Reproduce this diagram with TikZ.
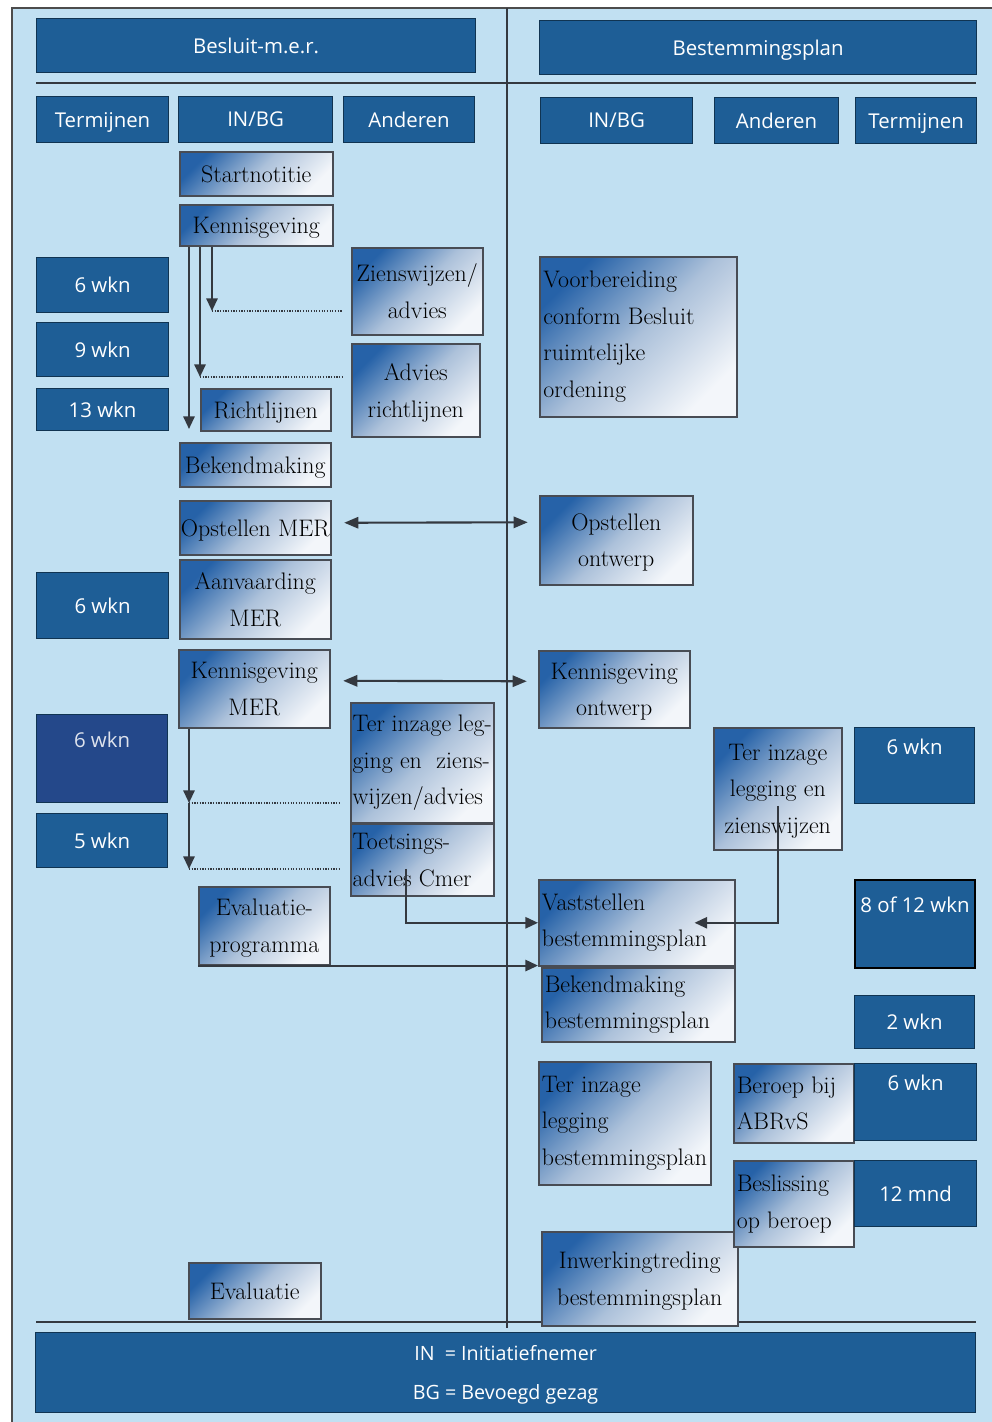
\documentclass[tikz,border=0pt]{standalone}
\usepackage{fontspec}
\setsansfont{Open Sans}
\usetikzlibrary{arrows.meta,calc,positioning}
\definecolor{bgblue}{RGB}{193,224,242}
\definecolor{hdrblue}{RGB}{30,94,150}
\definecolor{navyblue}{RGB}{36,72,138}
\definecolor{gradtop}{RGB}{38,98,168}
\definecolor{gradmid}{RGB}{172,193,218}
\definecolor{gradbot}{RGB}{243,246,250}
\definecolor{boxline}{RGB}{72,76,84}
\definecolor{conn}{RGB}{52,57,64}

\tikzset{
  boxsize/.style 2 args={minimum width=#1*0.025cm, minimum height=#2*0.025cm,
    anchor=north west},
  hdrbox/.style={draw=hdrblue!55!black, line width=0.8pt, fill=hdrblue, text=white,
    inner sep=0pt, text depth=0pt, align=center,
    font=\sffamily\fontsize{14.5}{27}\selectfont},
  stepbox/.style={draw=boxline, line width=1.1pt, top color=gradtop, bottom color=gradbot,
    middle color=gradmid, shading angle=45, inner sep=0pt, text depth=0pt, align=center,
    font=\rmfamily\fontsize{17}{26}\selectfont},
  lbox/.style={stepbox, align=flush left, text depth={}},
  arr/.style={draw=conn, line width=1.5pt, -{Triangle[length=9pt,width=8pt]}},
  darr/.style={draw=conn, line width=1.5pt,
    {Triangle[length=10pt,width=8pt]}-{Triangle[length=10pt,width=8pt]}},
  dotline/.style={draw=conn, line width=0.9pt, densely dotted},
  sepline/.style={draw=conn, line width=1.8pt}
}

\begin{document}
\begin{tikzpicture}[x=0.025cm, y=-0.025cm]
\useasboundingbox (0,0) rectangle (992,1422);

% background and frame
\fill[white] (0,0) rectangle (992,1422);
\fill[bgblue] (12,8) rectangle (992,1422);
\draw[gray!60!black, line width=0.8pt] (12,1422) -- (12,8) -- (992,8);

% separators
\draw[sepline] (507,8) -- (507,1328);
\draw[sepline] (36,83) -- (976,83);
\draw[sepline] (36,1322) -- (976,1322);

% titles
\node[hdrbox, boxsize={439}{54}] (hdrmer) at (36,18) {Besluit-m.e.r.};
\node[hdrbox, boxsize={437}{54}] (hdrbp) at (539,20) {Bestemmingsplan};

% column heads
\node[hdrbox, boxsize={132}{46}] (termL) at (36,96) {Termijnen};
\node[hdrbox, boxsize={154}{46}] (inbgL) at (178,96) {IN/BG};
\node[hdrbox, boxsize={131}{46}] (andL) at (343,96) {Anderen};
\node[hdrbox, boxsize={152}{46}] (inbgR) at (540,97) {IN/BG};
\node[hdrbox, boxsize={124}{46}] (andR) at (714,97) {Anderen};
\node[hdrbox, boxsize={121}{46}] (termR) at (855,97) {Termijnen};

% Besluit-m.e.r.: IN/BG
\node[stepbox, boxsize={153}{44}] (startnot) at (179,151) {Startnotitie};
\node[stepbox, boxsize={153}{41}] (kennis) at (179,204) {Kennisgeving};
\node[stepbox, boxsize={130}{42}] (richtl) at (200,388) {Richtlijnen};
\node[stepbox, boxsize={151}{44}] (bekend) at (179,442) {Bekendmaking};
\node[stepbox, boxsize={151}{54}] (opmer) at (179,500) {Opstellen MER};
\node[stepbox, boxsize={151}{79}] (aanv) at (179,559) {Aanvaarding\\MER};
\node[stepbox, boxsize={151}{78}] (kmer) at (178,649) {Kennisgeving\\MER};
\node[stepbox, boxsize={131}{78}] (evalprog) at (198,886) {Evaluatie-\\programma};
\node[stepbox, boxsize={132}{56}] (evalu) at (188,1262) {Evaluatie};

% Besluit-m.e.r.: Anderen
\node[stepbox, boxsize={131}{87}] (ziens) at (351,247) {Zienswijzen/\\advies};
\node[stepbox, boxsize={128}{93}] (advrl) at (351,343) {Advies\\richtlijnen};
\node[lbox, text width=99pt, boxsize={143}{120}] (terinzL) at (350,702) {Ter inzage leg-\\ging en\ \ ziens-\\wijzen/advies};
\node[lbox, text width=99pt, boxsize={143}{72}] (toets) at (350,823) {Toetsings-\\advies Cmer};

% Besluit-m.e.r.: Termijnen
\node[hdrbox, boxsize={132}{55}] (wkA) at (36,257) {6 wkn};
\node[hdrbox, boxsize={132}{54}] (wkB) at (36,322) {9 wkn};
\node[hdrbox, boxsize={132}{42}] (wkC) at (36,388) {13 wkn};
\node[hdrbox, boxsize={132}{66}] (wkD) at (36,572) {6 wkn};
\node[hdrbox, fill=navyblue, text=white!85!navyblue, boxsize={131}{88}] (wkE) at (36,714) {6 wkn\\\strut};
\node[hdrbox, boxsize={131}{54}] (wkF) at (36,813) {5 wkn};

% Bestemmingsplan: IN/BG
\node[lbox, text width=135pt, boxsize={197}{160}] (voorb) at (539,256) {Voorbereiding\\conform Besluit\\ruimtelijke\\ordening};
\node[stepbox, boxsize={153}{89}] (opontw) at (539,495) {Opstellen\\ontwerp};
\node[stepbox, boxsize={151}{77}] (kontw) at (538,650) {Kennisgeving\\ontwerp};
\node[lbox, text width=135pt, boxsize={196}{86}] (vast) at (538,879) {Vaststellen\\bestemmingsplan};
\node[lbox, text width=133pt, boxsize={193}{74}] (bekbp) at (541,967) {Bekendmaking\\bestemmingsplan};
\node[lbox, text width=118pt, boxsize={172}{123}] (terbp) at (538,1061) {Ter inzage\\legging\\bestemmingsplan};
\node[stepbox, boxsize={196}{94}] (inwerk) at (541,1231) {Inwerkingtreding\\bestemmingsplan};

% Bestemmingsplan: Anderen
\node[stepbox, boxsize={128}{122}] (terinzR) at (713,727) {Ter inzage\\legging en\\zienswijzen};
\node[lbox, text width=81pt, boxsize={120}{79}] (beroep) at (733,1063) {Beroep bij\\ABRvS};
\node[lbox, text width=81pt, boxsize={120}{86}] (besl) at (733,1160) {Beslissing\\op beroep};

% Bestemmingsplan: Termijnen
\node[hdrbox, boxsize={120}{76}] (wkG) at (854,727) {6 wkn\\\strut};
\node[hdrbox, draw=black, line width=1.3pt, boxsize={120}{88}] (wkH) at (854,879) {8 of 12 wkn\\\strut};
\node[hdrbox, boxsize={120}{53}] (wkI) at (854,995) {2 wkn};
\node[hdrbox, boxsize={122}{77}] (wkJ) at (854,1063) {6 wkn\\\strut};
\node[hdrbox, boxsize={122}{66}] (wkK) at (854,1160) {12 mnd};

% legend
\node[hdrbox, boxsize={940}{80}, font=\sffamily\fontsize{14}{27.5}\selectfont] (legend) at (35,1332)
  {IN\ \ = Initiatiefnemer\\BG = Bevoegd gezag};

% arrows from Kennisgeving
\coordinate (k1) at (212,311);
\coordinate (k2) at (200,377);
\coordinate (k3) at (189,429);
\draw[arr] (kennis.south -| k1) -- (k1);
\draw[arr] (kennis.south -| k2) -- (k2);
\draw[arr] (kennis.south -| k3) -- (k3);
\draw[dotline, shorten >=6pt] (k1) -- (k1 -| ziens.west);
\draw[dotline, shorten >=6pt] (k2) -- (k2 -| advrl.west);

% arrows from Kennisgeving MER
\coordinate (m1) at (189,803);
\coordinate (m2) at (189,869);
\draw[arr] (kmer.south -| m1) -- (m1);
\draw[arr] (m1) -- (m2);
\draw[dotline, shorten >=7pt] (m1) -- (m1 -| terinzL.west);
\draw[dotline, shorten >=7pt] (m2) -- (m2 -| toets.west);

% links between both procedures
\draw[darr, shorten <=9pt, shorten >=8pt] ($(opmer.east)+(0,-5)$) -- ($(opontw.west)+(0,-18)$);
\draw[darr, shorten <=9pt, shorten >=8pt] ($(kmer.east)+(0,-8)$) -- ($(kontw.west)+(0,-8)$);
\draw[arr] ($(toets.center)+(-16,9)$) |- (vast.west);
\draw[arr] (evalprog.south west) -- (evalprog.south west -| vast.west);
\draw[arr] ($(terinzR.center)+(0,17)$) |- ($(vast.east)+(-41,0)$);
\end{tikzpicture}
\end{document}
